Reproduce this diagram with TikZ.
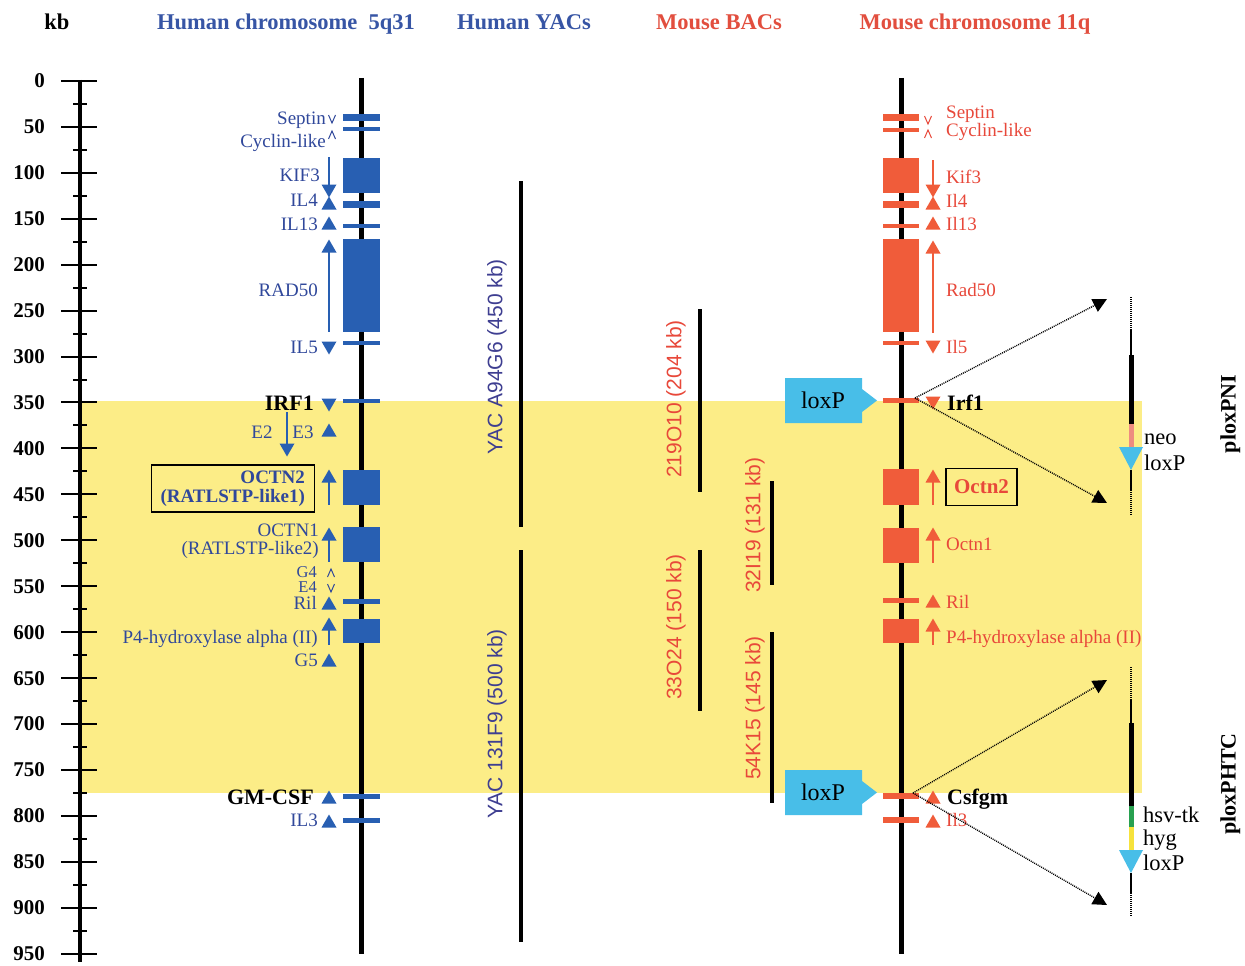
\documentclass[tikz,border=0pt]{standalone}
\usepackage{fontspec}
\setmainfont{Liberation Serif}
\newfontfamily\sansf{Liberation Sans}
\usetikzlibrary{arrows.meta}
\definecolor{hblue}{RGB}{40,95,178}
\definecolor{htext}{RGB}{48,72,155}
\definecolor{hhead}{RGB}{55,85,165}
\definecolor{mred}{RGB}{240,92,58}
\definecolor{mtext}{RGB}{232,72,58}
\definecolor{mhead}{RGB}{226,78,62}
\definecolor{yactext}{RGB}{62,62,145}
\definecolor{band}{RGB}{252,237,135}
\definecolor{loxc}{RGB}{72,190,232}
\definecolor{neoc}{RGB}{238,140,128}
\definecolor{tkc}{RGB}{40,160,80}
\definecolor{hygc}{RGB}{246,226,60}
\newcommand\fsz[2]{\fontsize{#1}{#2}\selectfont}
\newcommand\HB[2]{\fill[hblue] (343,#1) rectangle (380,#2);}
\newcommand\MB[2]{\fill[mred] (883,#1) rectangle (919,#2);}
\newcommand\Tup[3]{\fill[#1] (#2-7.5,#3+6.5) -- (#2+7.5,#3+6.5) -- (#2,#3-6.5) -- cycle;}
\newcommand\Tdn[3]{\fill[#1] (#2-7.5,#3-6.5) -- (#2+7.5,#3-6.5) -- (#2,#3+6.5) -- cycle;}
\newcommand\Chv[3]{\draw[#1,line width=1pt] (#2-3.5,#3-4) -- (#2,#3+4) -- (#2+3.5,#3-4);}
\newcommand\Cha[3]{\draw[#1,line width=1pt] (#2-3.5,#3+4) -- (#2,#3-4) -- (#2+3.5,#3+4);}
\begin{document}
\begin{tikzpicture}[x=1pt,y=-1pt,
  hdr/.style={font=\bfseries\fsz{22.5}{27}, inner sep=0pt, text height=15pt, text depth=0pt},
  axlab/.style={font=\bfseries\fsz{21}{24}, anchor=east, inner sep=0pt, text height=14pt, text depth=0pt},
  hl/.style={text=htext, font=\fsz{19}{19}, anchor=east, inner sep=0pt, text height=13pt, text depth=0pt},
  hs/.style={text=htext, font=\fsz{16.5}{16.5}, anchor=east, inner sep=0pt, text height=11pt, text depth=0pt},
  ml/.style={text=mtext, font=\fsz{19}{19}, anchor=west, inner sep=0pt, text height=13pt, text depth=0pt},
  bl/.style={font=\bfseries\fsz{22}{22}, inner sep=0pt, text height=15pt, text depth=0pt},
  vl/.style={font=\sansf\fsz{21}{21}, rotate=90, inner sep=0pt},
  vt/.style={font=\fsz{22.5}{22.5}, anchor=west, inner sep=0pt, text height=15pt, text depth=0pt},
  chrom/.style={line width=5pt},
  clone/.style={line width=4pt},
  arr/.style={line width=1.5pt},
  dots/.style={line width=1.4pt, dash pattern=on 1pt off 1pt, -{Triangle[length=14pt,width=14pt]}},
  vec/.style={line width=1.5pt},
  vdot/.style={line width=1.5pt, dash pattern=on 1pt off 1pt},
  box/.style={draw=black, line width=1.5pt}
]
\useasboundingbox (0,0) rectangle (1245,966);
\fill[white] (0,0) rectangle (1245,966);
% yellow band
\fill[band] (80,401) rectangle (1142,793);
% headers
\node[hdr] (hkb) at (57,22) {kb};
\node[hdr, text=hhead] (hhc) at (286,22) {Human chromosome\hspace{0.5em}5q31};
\node[hdr, text=hhead] (hyac) at (524,22) {Human YACs};
\node[hdr, text=mhead] (hbac) at (719,22) {Mouse BACs};
\node[hdr, text=mhead] (hmc) at (975,22) {Mouse chromosome 11q};
% axis
\draw[line width=4pt] (80,80) -- (80,962);
\foreach \k in {0,50,...,950}{
  \pgfmathsetmacro\yy{81+0.9185*\k}
  \draw[line width=2pt] (61,\yy) -- (97,\yy);
  \node[axlab] (ax\k) at (45,\yy) {\k};
}
\foreach \k in {25,75,...,925}{
  \pgfmathsetmacro\yy{81+0.9185*\k}
  \draw[line width=2pt] (73,\yy) -- (87,\yy);
}
% chromosomes
\draw[chrom] (361,78) -- (361,954);
\draw[chrom] (901,78) -- (901,954);
% human features
\HB{114}{121}\HB{127}{131}\HB{158}{193}\HB{201}{208}\HB{224}{228}
\HB{239}{332}\HB{341}{345}\HB{399}{403}\HB{470}{505}\HB{527}{562}
\HB{599}{604}\HB{619}{643}\HB{794}{799}\HB{818}{823}
% human arrows
\Chv{htext}{332}{119}\Cha{htext}{332}{135}
\draw[hblue,arr] (329,157) -- (329,186); \Tdn{hblue}{329}{191}
\Tup{hblue}{329}{203}
\Tup{hblue}{329}{223}
\Tup{hblue}{329}{246} \draw[hblue,arr] (329,250) -- (329,332);
\Tdn{hblue}{329}{348}
\Tdn{hblue}{329}{405}
\Tup{hblue}{329}{430}
\draw[hblue,arr] (287,412) -- (287,445); \Tdn{hblue}{287}{450}
\Tup{hblue}{329}{476} \draw[hblue,arr] (329,480) -- (329,505);
\Tup{hblue}{329}{534} \draw[hblue,arr] (329,538) -- (329,562);
\Cha{htext}{331}{573}\Chv{htext}{331}{588}
\Tup{hblue}{329}{603}
\Tup{hblue}{329}{624} \draw[hblue,arr] (329,628) -- (329,645);
\Tup{hblue}{329}{660}
\Tup{hblue}{329}{797}
\Tup{hblue}{329}{821}
% human labels
\node[hl] (lsep) at (326,118) {Septin};
\node[hl] (lcyc) at (326,141) {Cyclin-like};
\node[hl] (lkif) at (320,175) {KIF3};
\node[hl] (lil4) at (318,200) {IL4};
\node[hl] (lil13) at (318,224) {IL13};
\node[hl] (lrad) at (318,290) {RAD50};
\node[hl] (lil5) at (318,347) {IL5};
\node[bl, anchor=east] (lirf) at (314,403) {IRF1};
\node[hl, anchor=center] (le2) at (262,432) {E2};
\node[hl, anchor=center] (le3) at (303,432) {E3};
\node[box, anchor=east, text=htext, font=\bfseries\fsz{19}{19}, align=right, minimum width=163pt, minimum height=47pt, inner sep=4pt] (locn2) at (315,488.5) {OCTN2\\(RATLSTP-like1)};
\node[text=htext, font=\fsz{19}{17.5}, align=right, anchor=east, inner sep=0pt] (locn1) at (319,541) {OCTN1\\(RATLSTP-like2)};
\node[hs] (lg4) at (317,572) {G4};
\node[hs] (le4) at (317,587) {E4};
\node[hl] (lril) at (317,603) {Ril};
\node[hl] (lp4) at (318,637) {P4-hydroxylase alpha (II)};
\node[hl] (lg5) at (318,660) {G5};
\node[bl, anchor=east] (lgm) at (314,797) {GM-CSF};
\node[hl] (lil3) at (318,820) {IL3};
% YACs
\draw[clone] (521,181) -- (521,527);
\draw[clone] (521,550) -- (521,942);
\node[vl, text=yactext] (ya) at (497,357) {YAC A94G6 (450 kb)};
\node[vl, text=yactext] (yb) at (497,724) {YAC 131F9 (500 kb)};
% BACs
\draw[clone] (700,309) -- (700,492);
\draw[clone] (700,550) -- (700,711);
\draw[clone] (772,481) -- (772,585);
\draw[clone] (772,632) -- (772,803);
\node[vl, text=mtext] (b1) at (676,399) {219O10 (204 kb)};
\node[vl, text=mtext] (b2) at (676,627) {33O24 (150 kb)};
\node[vl, text=mtext] (b3) at (755,525) {32I19 (131 kb)};
\node[vl, text=mtext] (b4) at (755,708) {54K15 (145 kb)};
% mouse features
\MB{114}{121}\MB{128}{132}\MB{158}{193}\MB{201}{208}\MB{224}{228}
\MB{239}{332}\MB{341}{345}\MB{398}{403}\MB{469}{505}\MB{528}{563}
\MB{598}{603}\MB{619}{643}\MB{793}{799}\MB{817}{823}
% mouse arrows
\Chv{mtext}{928}{120}\Cha{mtext}{928}{134}
\draw[mred,arr] (933,160) -- (933,186); \Tdn{mred}{933}{191}
\Tup{mred}{933}{203}
\Tup{mred}{933}{223}
\Tup{mred}{933}{247} \draw[mred,arr] (933,251) -- (933,333);
\Tdn{mred}{933}{347}
\Tdn{mred}{933}{403}
\Tup{mred}{933}{476} \draw[mred,arr] (933,480) -- (933,505);
\Tup{mred}{933}{534} \draw[mred,arr] (933,538) -- (933,563);
\Tup{mred}{933}{601}
\Tup{mred}{933}{625} \draw[mred,arr] (933,629) -- (933,645);
\Tup{mred}{933}{797}
\Tup{mred}{933}{821}
% mouse labels
\node[ml] (msep) at (946,112) {Septin};
\node[ml] (mcyc) at (946,130) {Cyclin-like};
\node[ml] (mkif) at (946,177) {Kif3};
\node[ml] (mil4) at (946,201) {Il4};
\node[ml] (mil13) at (946,224) {Il13};
\node[ml] (mrad) at (946,290) {Rad50};
\node[ml] (mil5) at (946,347) {Il5};
\node[bl, anchor=west] (mirf) at (947,403) {Irf1};
\node[box, text=mtext, font=\bfseries\fsz{21}{21}, minimum width=71pt, minimum height=37pt, inner sep=3pt] (mocn2) at (981.5,487) {Octn2};
\node[ml] (mocn1) at (946,544) {Octn1};
\node[ml] (mril) at (946,602) {Ril};
\node[ml] (mp4) at (946,637) {P4-hydroxylase alpha (II)};
\node[bl, anchor=west] (mcsf) at (947,797) {Csfgm};
\node[ml] (mil3) at (946,820) {Il3};
% loxP callouts
\fill[loxc] (785,378) -- (862,378) -- (862,389) -- (877,400.5) -- (862,412) -- (862,423) -- (785,423) -- cycle;
\node[font=\fsz{24}{24}, inner sep=0pt] (lox1) at (823,400.5) {loxP};
\fill[loxc] (785,770) -- (862,770) -- (862,781) -- (877,792.5) -- (862,804) -- (862,815) -- (785,815) -- cycle;
\node[font=\fsz{24}{24}, inner sep=0pt] (lox2) at (823,792.5) {loxP};
% dotted arrows
\coordinate (sI) at (915,398);
\coordinate (sC) at (913,793);
\coordinate (tI1) at (1107,299);
\coordinate (tI2) at (1107,503);
\coordinate (tC1) at (1107,680);
\coordinate (tC2) at (1107,905);
\draw[dots] (sI) -- (tI1);
\draw[dots] (sI) -- (tI2);
\draw[dots] (sC) -- (tC1);
\draw[dots] (sC) -- (tC2);
% ploxPNI vector
\draw[vdot] (1131,297) -- (1131,330);
\draw[vec] (1131,330) -- (1131,355);
\draw[line width=5pt] (1131,355) -- (1131,424);
\draw[line width=5pt, neoc] (1131,424) -- (1131,447);
\fill[loxc] (1119,447) -- (1143,447) -- (1131,470) -- cycle;
\draw[vec] (1131,470) -- (1131,490);
\draw[vdot] (1131,490) -- (1131,515);
\node[vt] (vneo) at (1144,437) {neo};
\node[vt] (vlox1) at (1144,463) {loxP};
\node[bl, rotate=90] (pni) at (1228,414) {ploxPNI};
% ploxPHTC vector
\draw[vdot] (1131,667) -- (1131,700);
\draw[vec] (1131,700) -- (1131,723);
\draw[line width=5pt] (1131,723) -- (1131,806);
\draw[line width=5pt, tkc] (1131,806) -- (1131,827);
\draw[line width=5pt, hygc] (1131,827) -- (1131,850);
\fill[loxc] (1119,850) -- (1143,850) -- (1131,873) -- cycle;
\draw[vec] (1131,873) -- (1131,893);
\draw[vdot] (1131,893) -- (1131,917);
\node[vt] (vtk) at (1143,815) {hsv-tk};
\node[vt] (vhyg) at (1143,838) {hyg};
\node[vt] (vlox2) at (1143,863) {loxP};
\node[bl, rotate=90] (phtc) at (1228,784) {ploxPHTC};
\end{tikzpicture}
\end{document}
